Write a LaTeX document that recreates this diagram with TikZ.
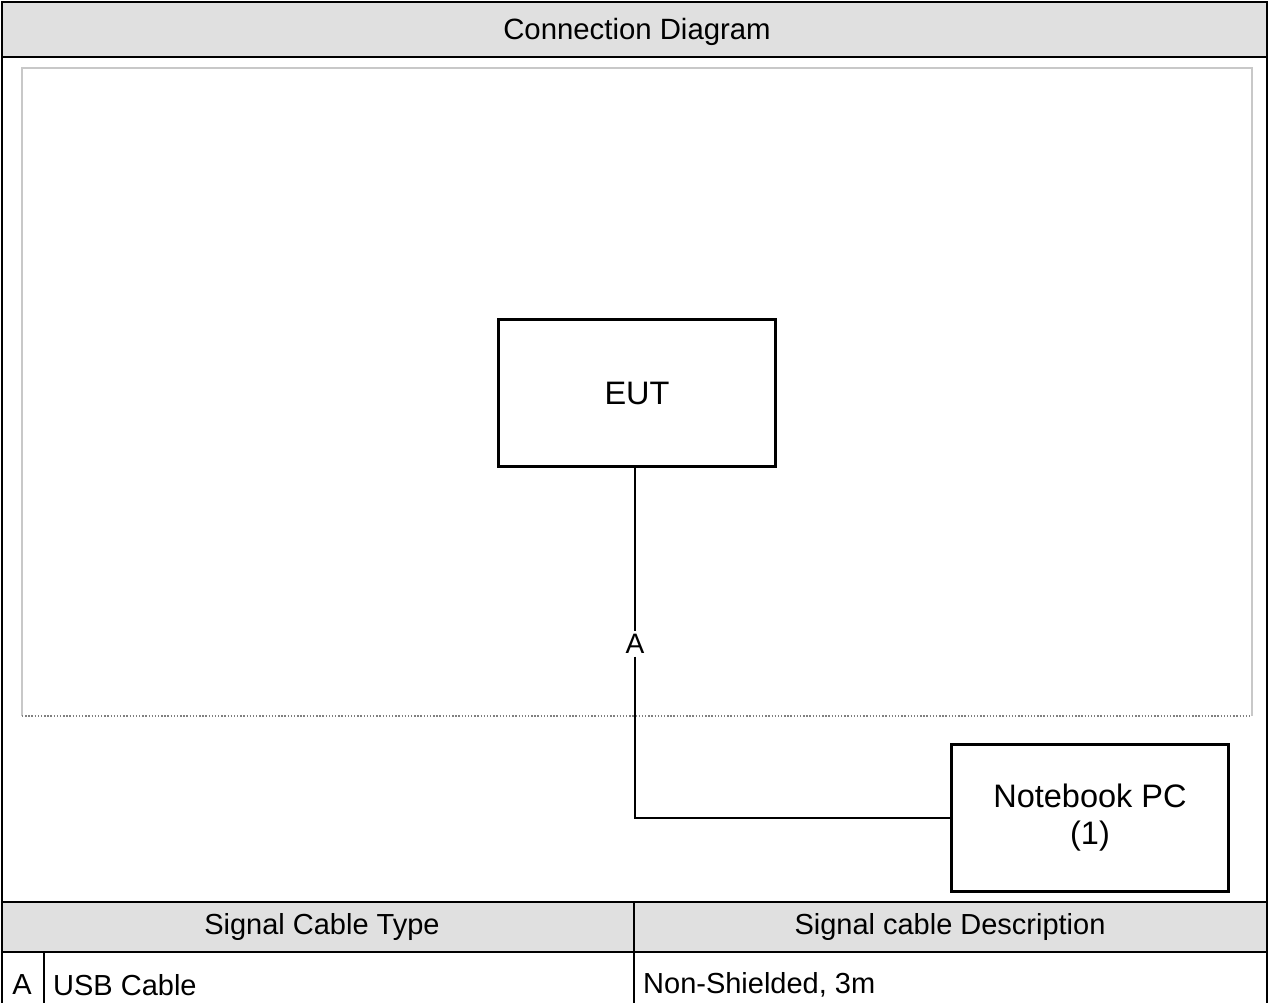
\documentclass[tikz,border=0pt]{standalone}
\usepackage{fontspec}
\setmainfont{Liberation Sans}
\definecolor{hdrgray}{RGB}{224,224,224}
\definecolor{framegray}{RGB}{200,200,200}
\tikzset{
  unitbox/.style={draw=black, line width=1.7pt, fill=white, minimum width=5.56cm, minimum height=2.93cm, align=center, font=\fontsize{18.5}{21}\selectfont},
  cable/.style={line width=1.2pt},
  frameline/.style={line width=1.5pt},
  celltext/.style={font=\fontsize{16.5}{19}\selectfont}
}
\begin{document}
\begin{tikzpicture}[x=0.02cm,y=-0.02cm]
			\useasboundingbox[fill=white] (0,0) rectangle (1269,1003);
			% header bands
			\fill[hdrgray] (2,2) rectangle (1267,57);
			\fill[hdrgray] (2,902) rectangle (1267,952);
			\node[font=\fontsize{16.7}{19}\selectfont] (title) at (637,32) {Connection Diagram};
			% inner frame
			\draw[framegray, line width=0.8pt] (22,716) -- (22,68) -- (1252,68) -- (1252,716);
			\draw[gray, line width=0.8pt, densely dotted] (22,716) -- (1252,716);
			% outer frame and table rules
			\draw[frameline] (2,1003) -- (2,2) -- (1267,2) -- (1267,1003);
			\draw[frameline] (2,57) -- (1267,57);
			\draw[frameline] (2,902) -- (1267,902);
			\draw[frameline] (2,952) -- (1267,952);
			\draw[frameline] (634,902) -- (634,1003);
			\draw[frameline] (44,952) -- (44,1003);
			% boxes
			\node[unitbox] (eut) at (637,393) {EUT};
			\node[unitbox] (pc) at (1090,818) {Notebook PC\\(1)};
			\node[inner sep=1.5pt, font=\fontsize{16}{19}\selectfont] (lblA) at (635,644) {A};
			\draw[cable] (eut.south -| lblA) -- (lblA.north);
			\draw[cable] (lblA.south) |- (pc.west);
			% table text
			\node[celltext] (typehd) at (322,927) {Signal Cable Type};
			\node[celltext] (deschd) at (950,927) {Signal cable Description};
			\node[celltext] (rowA) at (22,985) {A};
			\node[celltext, anchor=west] (usb) at (47,985) {USB Cable};
			\node[celltext, anchor=west] (nonsh) at (637,985) {Non-Shielded, 3m};
		\end{tikzpicture}
\end{document}
